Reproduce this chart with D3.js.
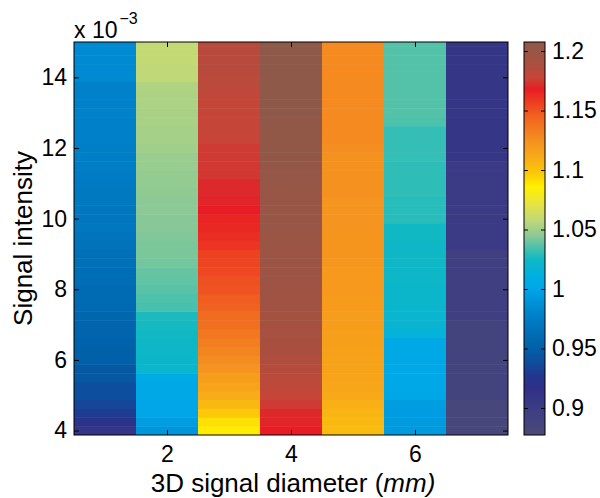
<!DOCTYPE html>
<html>
<head>
<meta charset="utf-8">
<script src="https://cdn.jsdelivr.net/npm/d3@7"></script>
<style>
  body { margin: 0; background: #fff; }
  text { font-family: "Liberation Sans", Arial, sans-serif; fill: #000; }
</style>
</head>
<body>
<div id="vis"></div>
<script>
// frame
const FRAME_WIDTH = 600;
const FRAME_HEIGHT = 498;
const PLOT = {left: 74, right: 508, top: 42, bottom: 435};
const CBAR = {left: 524, right: 545};

// data: x categories (diameter, mm), row centers (intensity, x 1e-3), cell values per column (bottom -> top)
const DIAMETERS = [1, 2, 3, 4, 5, 6, 7];
const ROWS = [4, 4.25, 4.5, 4.75, 5, 5.25, 5.5, 5.75, 6, 6.25, 6.5, 6.75, 7, 7.25, 7.5, 7.75,
              8, 8.25, 8.5, 8.75, 9, 9.25, 9.5, 9.75, 10, 10.25, 10.5, 10.75, 11, 11.25, 11.5, 11.75,
              12, 12.25, 12.5, 12.75, 13, 13.25, 13.5, 13.75, 14, 14.25, 14.5, 14.75, 15];

const COL1 = [0.910, 0.920, 0.930, 0.935, 0.940, 0.940, 0.945, 0.945, 0.950, 0.950, 0.952, 0.955, 0.955, 0.957, 0.958,
              0.960, 0.960, 0.962, 0.963, 0.965, 0.965, 0.967, 0.968, 0.970, 0.970, 0.970, 0.972, 0.972, 0.973, 0.974,
              0.975, 0.976, 0.976, 0.977, 0.977, 0.977, 0.978, 0.978, 0.978, 0.978, 0.984, 0.984, 0.984, 0.984, 0.984];
const COL2 = [0.990, 0.995, 1.000, 1.000, 1.003, 1.003, 1.005, 1.020, 1.022, 1.023, 1.024, 1.025, 1.026, 1.027, 1.034,
              1.035, 1.037, 1.038, 1.039, 1.041, 1.042, 1.042, 1.043, 1.044, 1.044, 1.045, 1.045, 1.046, 1.047, 1.047,
              1.048, 1.048, 1.050, 1.051, 1.051, 1.052, 1.052, 1.053, 1.053, 1.054, 1.058, 1.058, 1.059, 1.059, 1.059];
const COL3 = [1.087, 1.090, 1.097, 1.104, 1.110, 1.114, 1.118, 1.123, 1.127, 1.130, 1.133, 1.136, 1.139, 1.141, 1.145,
              1.147, 1.150, 1.151, 1.154, 1.155, 1.156, 1.160, 1.162, 1.164, 1.165, 1.168, 1.170, 1.171, 1.171, 1.174,
              1.174, 1.175, 1.175, 1.177, 1.178, 1.178, 1.178, 1.179, 1.180, 1.182, 1.183, 1.184, 1.184, 1.184, 1.184];
const COL4 = [1.168, 1.170, 1.171, 1.175, 1.178, 1.181, 1.183, 1.185, 1.187, 1.189, 1.190, 1.191, 1.192, 1.193, 1.194,
              1.195, 1.196, 1.197, 1.197, 1.198, 1.198, 1.199, 1.199, 1.200, 1.200, 1.200, 1.201, 1.201, 1.202, 1.202,
              1.203, 1.205, 1.205, 1.205, 1.205, 1.205, 1.206, 1.206, 1.206, 1.206, 1.206, 1.207, 1.207, 1.207, 1.207];
const COL5 = [1.103, 1.104, 1.106, 1.108, 1.112, 1.113, 1.114, 1.115, 1.115, 1.116, 1.117, 1.117, 1.118, 1.118, 1.119,
              1.119, 1.120, 1.120, 1.120, 1.121, 1.122, 1.122, 1.122, 1.123, 1.123, 1.123, 1.123, 1.124, 1.124, 1.124,
              1.124, 1.124, 1.126, 1.128, 1.128, 1.128, 1.128, 1.128, 1.128, 1.128, 1.128, 1.128, 1.128, 1.128, 1.128];
const COL6 = [0.993, 0.993, 0.994, 0.995, 1.001, 1.002, 1.002, 1.002, 1.003, 1.003, 1.004, 1.015, 1.019, 1.020, 1.021,
              1.022, 1.022, 1.023, 1.023, 1.024, 1.024, 1.024, 1.025, 1.025, 1.029, 1.029, 1.029, 1.030, 1.030, 1.030,
              1.030, 1.031, 1.031, 1.031, 1.031, 1.035, 1.036, 1.036, 1.036, 1.036, 1.036, 1.036, 1.036, 1.036, 1.036];
const COL7 = [0.882, 0.882, 0.882, 0.882, 0.888, 0.888, 0.888, 0.888, 0.888, 0.888, 0.888, 0.888, 0.888, 0.895, 0.895,
              0.895, 0.895, 0.895, 0.895, 0.895, 0.895, 0.903, 0.903, 0.903, 0.903, 0.903, 0.903, 0.903, 0.903, 0.903,
              0.903, 0.909, 0.909, 0.909, 0.909, 0.909, 0.909, 0.909, 0.909, 0.909, 0.909, 0.909, 0.909, 0.909, 0.909];
const COLUMNS = [COL1, COL2, COL3, COL4, COL5, COL6, COL7];

const X_TICKS = [2, 4, 6];
const Y_TICKS = [4, 6, 8, 10, 12, 14];
const C_TICKS = [0.9, 0.95, 1, 1.05, 1.1, 1.15, 1.2];
const C_LIMITS = [0.8773, 1.2076];

// colormap stops
const CMAP_VALUES = [0.877, 0.9, 0.917, 0.928, 0.938, 0.95, 0.965, 0.983, 1.0, 1.012, 1.025, 1.033, 1.044,
                     1.058, 1.072, 1.086, 1.097, 1.11, 1.127, 1.146, 1.16, 1.168, 1.177, 1.19, 1.208];
const CMAP_COLORS = ["#4a4a78", "#3c3c84", "#2e3088", "#203890", "#104c9c", "#0060a8", "#0070b8", "#0088d0",
                     "#00a6e8", "#00b0e0", "#10b8c4", "#40c0b0", "#88c898", "#c0d878", "#e8e440", "#fff000",
                     "#fcc808", "#f8ac18", "#f48c20", "#f06020", "#ec3422", "#e81c24", "#c84438", "#a85040",
                     "#8c5a4a"];

const COLOR = d3.scaleLinear().domain(CMAP_VALUES).range(CMAP_COLORS).clamp(true);

const SVG = d3.select("#vis")
  .append("svg")
    .attr("width", FRAME_WIDTH)
    .attr("height", FRAME_HEIGHT);

const X_SCALE = d3.scaleLinear().domain([0.5, 7.5]).range([PLOT.left, PLOT.right]);
const Y_SCALE = d3.scaleLinear().domain([3.875, 15]).range([PLOT.bottom, PLOT.top]);
const C_SCALE = d3.scaleLinear().domain(C_LIMITS).range([PLOT.bottom, PLOT.top]);

SVG.append("clipPath").attr("id", "plotclip")
  .append("rect")
    .attr("x", PLOT.left).attr("y", PLOT.top)
    .attr("width", PLOT.right - PLOT.left).attr("height", PLOT.bottom - PLOT.top);

// cells
const cells = [];
COLUMNS.forEach((col, i) => {
  col.forEach((v, j) => cells.push({x: DIAMETERS[i], y: ROWS[j], v: v}));
});

SVG.append("g").attr("clip-path", "url(#plotclip)")
  .selectAll("rect")
  .data(cells)
  .enter()
  .append("rect")
    .attr("x", (d) => X_SCALE(d.x - 0.5))
    .attr("width", (d) => X_SCALE(d.x + 0.5) - X_SCALE(d.x - 0.5) + 0.5)
    .attr("y", (d) => Y_SCALE(d.y + 0.125))
    .attr("height", (d) => Y_SCALE(d.y - 0.125) - Y_SCALE(d.y + 0.125) + 0.5)
    .attr("fill", (d) => COLOR(d.v));

// axes with inward ticks on all four sides
const TICK = 5;
const FONT = "23px";
const TITLE_FONT = "26px";
function styleAxis(g) {
  g.select(".domain").remove();
  g.selectAll(".tick line").attr("stroke", "#000");
  g.selectAll("text").attr("font-size", FONT).attr("fill", "#000");
}

SVG.append("g")
  .attr("transform", "translate(0," + PLOT.bottom + ")")
  .call(d3.axisBottom(X_SCALE).tickValues(X_TICKS).tickSize(-TICK).tickPadding(11).tickFormat(d3.format("d")))
  .call(styleAxis);
SVG.append("g")
  .attr("transform", "translate(0," + PLOT.top + ")")
  .call(d3.axisTop(X_SCALE).tickValues(X_TICKS).tickSize(-TICK).tickFormat(""))
  .call(styleAxis);
SVG.append("g")
  .attr("transform", "translate(" + PLOT.left + ",0)")
  .call(d3.axisLeft(Y_SCALE).tickValues(Y_TICKS).tickSize(-TICK).tickPadding(7).tickFormat(d3.format("d")))
  .call(styleAxis);
SVG.append("g")
  .attr("transform", "translate(" + PLOT.right + ",0)")
  .call(d3.axisRight(Y_SCALE).tickValues(Y_TICKS).tickSize(-TICK).tickFormat(""))
  .call(styleAxis);

SVG.append("rect")
  .attr("x", PLOT.left).attr("y", PLOT.top)
  .attr("width", PLOT.right - PLOT.left).attr("height", PLOT.bottom - PLOT.top)
  .attr("fill", "none").attr("stroke", "#000").attr("stroke-width", 1);

// exponent label
const expo = SVG.append("text").attr("x", 74).attr("y", 38).attr("font-size", "23px");
expo.append("tspan").text("x 10");
expo.append("tspan").attr("dy", -14).attr("dx", 2).attr("font-size", "16px").text("\u22123");

// axis titles
SVG.append("text")
  .attr("x", 293).attr("y", 492)
  .attr("text-anchor", "middle")
  .attr("font-size", TITLE_FONT)
  .call((t) => {
    t.append("tspan").text("3D signal diameter (");
    t.append("tspan").attr("font-style", "italic").text("mm)");
  });

SVG.append("text")
  .attr("transform", "translate(32," + ((PLOT.top + PLOT.bottom) / 2) + ") rotate(-90)")
  .attr("text-anchor", "middle")
  .attr("font-size", TITLE_FONT)
  .text("Signal intensity");

// colorbar
const grad = SVG.append("defs").append("linearGradient")
  .attr("id", "cbar").attr("x1", 0).attr("x2", 0).attr("y1", 1).attr("y2", 0);
grad.selectAll("stop")
  .data(CMAP_VALUES)
  .enter()
  .append("stop")
    .attr("offset", (d) => (d - C_LIMITS[0]) / (C_LIMITS[1] - C_LIMITS[0]))
    .attr("stop-color", (d, i) => CMAP_COLORS[i]);

SVG.append("rect")
  .attr("x", CBAR.left).attr("y", PLOT.top)
  .attr("width", CBAR.right - CBAR.left).attr("height", PLOT.bottom - PLOT.top)
  .attr("fill", "url(#cbar)").attr("stroke", "#000").attr("stroke-width", 1);

SVG.append("g")
  .attr("transform", "translate(" + CBAR.right + ",0)")
  .call(d3.axisRight(C_SCALE).tickValues(C_TICKS).tickSize(-4).tickPadding(7).tickFormat(d3.format("")))
  .call(styleAxis);
SVG.append("g")
  .attr("transform", "translate(" + CBAR.left + ",0)")
  .call(d3.axisLeft(C_SCALE).tickValues(C_TICKS).tickSize(-4).tickFormat(""))
  .call(styleAxis);
</script>
</body>
</html>
